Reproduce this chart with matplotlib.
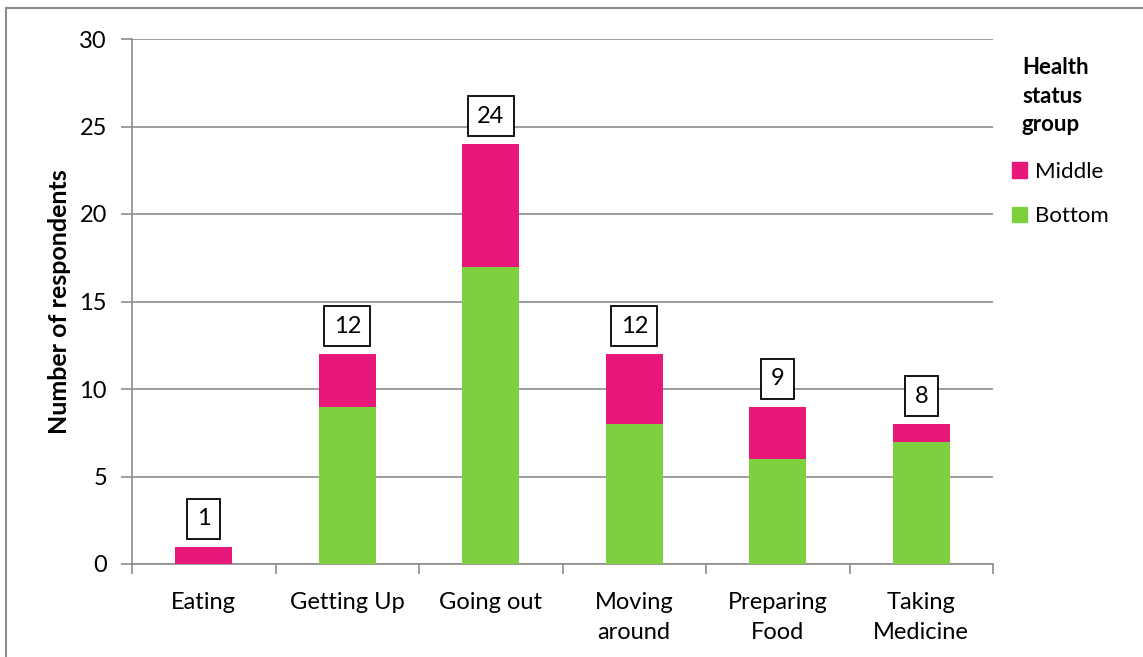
import matplotlib
matplotlib.use("Agg")
import matplotlib.pyplot as plt
from matplotlib.patches import Rectangle, Patch
import numpy as np

plt.rcParams['font.family'] = ['Lato', 'DejaVu Sans']

categories = ["Eating", "Getting Up", "Going out", "Moving\naround", "Preparing\nFood", "Taking\nMedicine"]
bottom_vals = [0, 9, 17, 8, 6, 7]
middle_vals = [1, 3, 7, 4, 3, 1]
totals = [1, 12, 24, 12, 9, 8]
yticks = [0, 5, 10, 15, 20, 25, 30]

pink = "#E8177A"
green = "#7ED03E"
gridc = "#8C8C8C"

fig = plt.figure(figsize=(11.43, 6.57), dpi=100)
ax = fig.add_axes([132/1143, 1-564/657, 861/1143, 525/657])

x = np.arange(len(categories))
ax.bar(x, bottom_vals, width=0.4, color=green, zorder=3)
ax.bar(x, middle_vals, width=0.4, bottom=bottom_vals, color=pink, zorder=3)

for xi, t in zip(x, totals):
    ax.annotate(str(t), (xi, t), xytext=(0, 20), textcoords="offset points",
                ha="center", va="center", fontsize=17,
                bbox=dict(boxstyle="square,pad=0.4", fc="white", ec="black", lw=1.3), zorder=5)

ax.set_xlim(-0.5, len(categories) - 0.5)
ax.set_ylim(0, 30)
ax.set_yticks(yticks)
ax.set_yticklabels([str(v) for v in yticks], fontsize=17)
ax.yaxis.grid(True, color=gridc, lw=1.2, zorder=0)
ax.set_xticks(x)
ax.set_xticklabels(categories, fontsize=17, linespacing=1.55, va="top")
ax.set_xticks(np.arange(len(categories) + 1) - 0.5, minor=True)
ax.tick_params(axis="x", which="major", length=0, pad=20)
ax.tick_params(axis="x", which="minor", length=7, color=gridc, width=1.2)
ax.tick_params(axis="y", length=8, color=gridc, width=1.2, pad=10)

for s in ["top", "right"]:
    ax.spines[s].set_visible(False)
for s in ["left", "bottom"]:
    ax.spines[s].set_color(gridc)
    ax.spines[s].set_linewidth(1.2)

ax.set_ylabel("Number of respondents", fontsize=18, fontweight="bold", labelpad=6)

fig.text(1022/1143, 1-57/657, "Health\nstatus\ngroup", fontsize=16, fontweight="bold",
         ha="left", va="top", linespacing=1.45)

handles = [Patch(color=pink, label="Middle"), Patch(color=green, label="Bottom")]
leg = fig.legend(handles=handles, loc="upper left", bbox_to_anchor=(1005/1143, 1-155/657),
                 frameon=False, fontsize=16,
                 handlelength=0.7, handleheight=0.7, handletextpad=0.35,
                 labelspacing=1.1, borderaxespad=0, borderpad=0.3)

fig.patches.append(Rectangle((6/1143, -0.01), 1.1, 1 - 8/657 + 0.01, transform=fig.transFigure,
                             fill=False, ec=gridc, lw=1.5))

fig.savefig("out.png", dpi=100)
